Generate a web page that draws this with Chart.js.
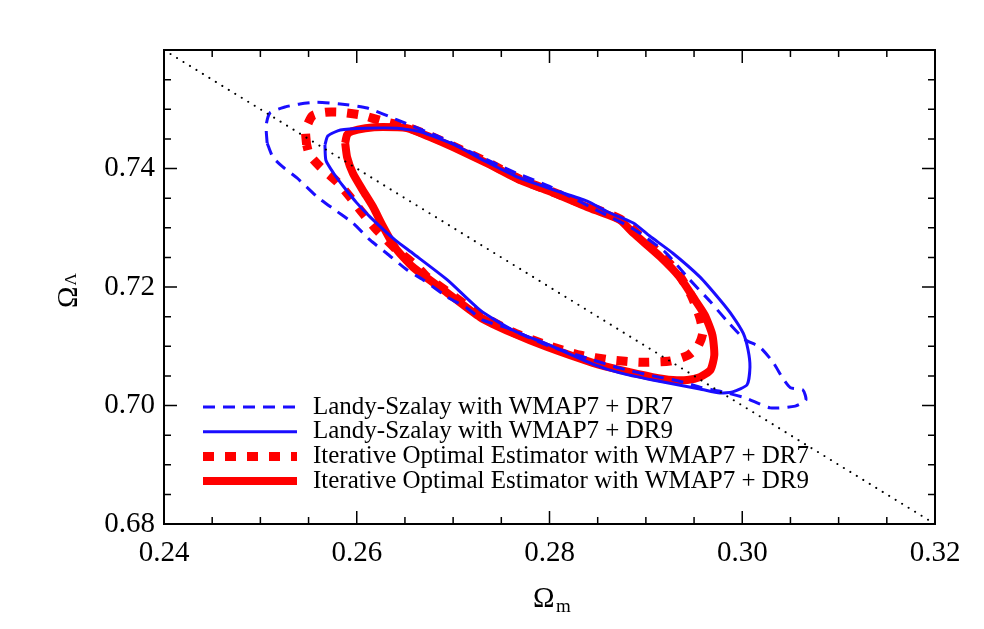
<!DOCTYPE html>
<html>
<head>
<meta charset="utf-8">
<script src="https://cdn.jsdelivr.net/npm/chart.js@4.4.1/dist/chart.umd.min.js"></script>
<style>
  html, body { margin: 0; padding: 0; background: #fff; }
  #wrap { width: 984px; height: 629px; }
</style>
</head>
<body>
<div id="wrap"><canvas id="contours" width="984" height="629"></canvas></div>
<script>
// Contours Omega_m / Omega_Lambda
const lsDr7X = [0.2507, 0.2506, 0.2510, 0.2526, 0.2541, 0.2559, 0.2583, 0.2611, 0.2642, 0.2686, 0.2714, 0.2766, 0.2801, 0.2852, 0.2887, 0.2920, 0.2944, 0.2967, 0.2985, 0.3003, 0.3018, 0.3032, 0.3042, 0.3050, 0.3063, 0.3066, 0.3055, 0.3029, 0.3003, 0.2977, 0.2956, 0.2935, 0.2907, 0.2873, 0.2845, 0.2797, 0.2756, 0.2731, 0.2714, 0.2694, 0.2669, 0.2652, 0.2631, 0.2614, 0.2596, 0.2580, 0.2559, 0.2538, 0.2523, 0.2513];
const lsDr7Y = [0.7443, 0.7473, 0.7494, 0.7504, 0.7509, 0.7512, 0.7509, 0.7502, 0.7482, 0.7453, 0.7431, 0.7392, 0.7369, 0.7327, 0.7298, 0.7259, 0.7215, 0.7175, 0.7141, 0.7111, 0.7099, 0.7073, 0.7046, 0.7030, 0.7026, 0.7009, 0.6999, 0.6996, 0.7013, 0.7024, 0.7031, 0.7041, 0.7050, 0.7063, 0.7077, 0.7102, 0.7131, 0.7144, 0.7165, 0.7183, 0.7212, 0.7229, 0.7257, 0.7279, 0.7308, 0.7327, 0.7352, 0.7384, 0.7403, 0.7419];

const lsDr9X = [0.2567, 0.2570, 0.2583, 0.2609, 0.2642, 0.2666, 0.2700, 0.2735, 0.2769, 0.2804, 0.2839, 0.2860, 0.2887, 0.2904, 0.2928, 0.2956, 0.2977, 0.2990, 0.3001, 0.3006, 0.3008, 0.3005, 0.2990, 0.2977, 0.2956, 0.2907, 0.2873, 0.2845, 0.2797, 0.2762, 0.2728, 0.2694, 0.2658, 0.2640, 0.2614, 0.2600, 0.2586, 0.2576, 0.2568];
const lsDr9Y = [0.7440, 0.7455, 0.7465, 0.7468, 0.7468, 0.7462, 0.7441, 0.7411, 0.7384, 0.7364, 0.7345, 0.7327, 0.7308, 0.7286, 0.7257, 0.7217, 0.7178, 0.7151, 0.7122, 0.7094, 0.7065, 0.7035, 0.7023, 0.7021, 0.7028, 0.7043, 0.7055, 0.7070, 0.7104, 0.7127, 0.7161, 0.7212, 0.7257, 0.7279, 0.7318, 0.7342, 0.7370, 0.7392, 0.7414];

const ioeDr7X = [0.2548, 0.2547, 0.2554, 0.2567, 0.2583, 0.2605, 0.2627, 0.2652, 0.2676, 0.2700, 0.2735, 0.2769, 0.2804, 0.2839, 0.2873, 0.2894, 0.2915, 0.2933, 0.2947, 0.2956, 0.2959, 0.2954, 0.2944, 0.2925, 0.2894, 0.2863, 0.2832, 0.2797, 0.2762, 0.2728, 0.2694, 0.2673, 0.2663, 0.2642, 0.2621, 0.2606, 0.2593, 0.2580, 0.2562, 0.2551];
const ioeDr7Y = [0.7440, 0.7465, 0.7489, 0.7495, 0.7495, 0.7490, 0.7480, 0.7470, 0.7455, 0.7438, 0.7411, 0.7382, 0.7360, 0.7337, 0.7315, 0.7286, 0.7256, 0.7224, 0.7186, 0.7148, 0.7122, 0.7100, 0.7085, 0.7075, 0.7073, 0.7077, 0.7085, 0.7102, 0.7124, 0.7153, 0.7192, 0.7217, 0.7234, 0.7262, 0.7296, 0.7325, 0.7352, 0.7377, 0.7403, 0.7423];

const ioeDr9X = [0.2588, 0.2590, 0.2595, 0.2609, 0.2627, 0.2652, 0.2676, 0.2700, 0.2735, 0.2769, 0.2804, 0.2839, 0.2873, 0.2887, 0.2915, 0.2935, 0.2949, 0.2961, 0.2969, 0.2971, 0.2967, 0.2956, 0.2943, 0.2928, 0.2907, 0.2873, 0.2845, 0.2797, 0.2762, 0.2728, 0.2694, 0.2658, 0.2640, 0.2627, 0.2617, 0.2606, 0.2596, 0.2590];
const ioeDr9Y = [0.7443, 0.7457, 0.7463, 0.7468, 0.7470, 0.7468, 0.7453, 0.7436, 0.7409, 0.7381, 0.7359, 0.7335, 0.7313, 0.7291, 0.7251, 0.7217, 0.7183, 0.7153, 0.7119, 0.7085, 0.7060, 0.7048, 0.7043, 0.7043, 0.7048, 0.7060, 0.7072, 0.7099, 0.7122, 0.7149, 0.7190, 0.7234, 0.7266, 0.7303, 0.7335, 0.7364, 0.7392, 0.7419];

// Droite plate (Omega_m + Omega_Lambda = 1)
const flatX = [0.24, 0.32];
const flatY = [0.76, 0.68];

const seriesLabels = [
    "Landy-Szalay with WMAP7 + DR7",
    "Landy-Szalay with WMAP7 + DR9",
    "Iterative Optimal Estimator with WMAP7 + DR7",
    "Iterative Optimal Estimator with WMAP7 + DR9"
];

const xTicks = [0.24, 0.26, 0.28, 0.30, 0.32];
const yTicks = [0.68, 0.70, 0.72, 0.74];
const minorStep = 0.005;

const SERIF = '"Liberation Serif", "DejaVu Serif", serif';

// Transforme deux listes en points fermés
function closedLoop(xs, ys) {
    const pts = xs.map((x, i) => ({ x: x, y: ys[i] }));
    pts.push(pts[0]);
    return pts;
}

// Cadre + graduations vers l'intérieur sur les 4 côtés
const frameTicks = {
    id: "frameTicks",
    afterDatasetsDraw(chart) {
        const { ctx, chartArea: a, scales: { x, y } } = chart;
        ctx.save();
        ctx.strokeStyle = "#000";
        ctx.lineWidth = 1.5;
        ctx.beginPath();
        const nx = Math.round((x.max - x.min) / minorStep);
        for (let i = 0; i <= nx; i++) {
            const px = x.getPixelForValue(x.min + i * minorStep);
            const len = i % 4 === 0 ? 13 : 7;
            ctx.moveTo(px, a.bottom); ctx.lineTo(px, a.bottom - len);
            ctx.moveTo(px, a.top); ctx.lineTo(px, a.top + len);
        }
        const ny = Math.round((y.max - y.min) / minorStep);
        for (let i = 0; i <= ny; i++) {
            const py = y.getPixelForValue(y.min + i * minorStep);
            const len = i % 4 === 0 ? 13 : 7;
            ctx.moveTo(a.left, py); ctx.lineTo(a.left + len, py);
            ctx.moveTo(a.right, py); ctx.lineTo(a.right - len, py);
        }
        ctx.stroke();
        ctx.lineWidth = 2;
        ctx.strokeRect(a.left, a.top, a.right - a.left, a.bottom - a.top);
        ctx.restore();
    }
};

// Légende dessinée à la main (échantillons de trait dans le cadre)
const lineLegend = {
    id: "lineLegend",
    afterDraw(chart) {
        const ctx = chart.ctx;
        const x0 = 203, x1 = 297, tx = 313;
        let yy = 407;
        ctx.save();
        ctx.font = "25px " + SERIF;
        ctx.textBaseline = "middle";
        ctx.textAlign = "left";
        seriesLabels.forEach((label, i) => {
            const ds = chart.data.datasets[i];
            ctx.strokeStyle = ds.borderColor;
            ctx.lineWidth = ds.borderWidth;
            ctx.setLineDash(ds.borderDash || []);
            ctx.lineCap = "butt";
            ctx.beginPath();
            ctx.moveTo(x0, yy);
            ctx.lineTo(x1, yy);
            ctx.stroke();
            ctx.setLineDash([]);
            ctx.fillStyle = "#000";
            ctx.fillText(label, tx, yy);
            yy += 24.7;
        });
        ctx.restore();
    }
};

// Titres des axes avec indices
const axisTitles = {
    id: "axisTitles",
    afterDraw(chart) {
        const ctx = chart.ctx;
        ctx.save();
        ctx.fillStyle = "#000";
        ctx.textBaseline = "alphabetic";
        ctx.textAlign = "left";
        // Omega_m
        ctx.font = "29px " + SERIF;
        ctx.fillText("\u03A9", 533, 607);
        ctx.font = "19px " + SERIF;
        ctx.fillText("m", 556, 612);
        // Omega_Lambda (vertical)
        ctx.translate(77, 308);
        ctx.rotate(-Math.PI / 2);
        ctx.font = "29px " + SERIF;
        ctx.fillText("\u03A9", 0, 0);
        const w = ctx.measureText("\u03A9").width;
        ctx.font = "17px " + SERIF;
        ctx.fillText("\u039B", w + 1, -1);
        ctx.restore();
    }
};

const ctx = document.getElementById("contours").getContext("2d");

new Chart(ctx, {
    type: "scatter",
    data: {
        datasets: [
            {
                label: seriesLabels[0],
                data: closedLoop(lsDr7X, lsDr7Y),
                borderColor: "#1a0dff",
                borderWidth: 3,
                borderDash: [12, 8],
                showLine: true,
                pointRadius: 0,
                tension: 0.2,
                order: 1
            },
            {
                label: seriesLabels[1],
                data: closedLoop(lsDr9X, lsDr9Y),
                borderColor: "#1a0dff",
                borderWidth: 3,
                showLine: true,
                pointRadius: 0,
                tension: 0.2,
                order: 2
            },
            {
                label: seriesLabels[2],
                data: closedLoop(ioeDr7X, ioeDr7Y),
                borderColor: "#ff0000",
                borderWidth: 9,
                borderDash: [11, 11],
                showLine: true,
                pointRadius: 0,
                tension: 0.2,
                order: 3
            },
            {
                label: seriesLabels[3],
                data: closedLoop(ioeDr9X, ioeDr9Y),
                borderColor: "#ff0000",
                borderWidth: 8,
                showLine: true,
                pointRadius: 0,
                tension: 0.2,
                order: 4
            },
            {
                label: "flat",
                data: flatX.map((x, i) => ({ x: x, y: flatY[i] })),
                borderColor: "#000",
                borderWidth: 2,
                borderDash: [0.1, 7.5],
                borderCapStyle: "round",
                showLine: true,
                pointRadius: 0,
                order: 0
            }
        ]
    },
    options: {
        responsive: false,
        animation: false,
        layout: { padding: { left: 0, top: 50, right: 49, bottom: 0 } },
        plugins: {
            legend: { display: false },
            tooltip: { enabled: false }
        },
        scales: {
            x: {
                type: "linear",
                min: 0.24,
                max: 0.32,
                afterBuildTicks: (scale) => { scale.ticks = xTicks.map(v => ({ value: v })); },
                afterFit: (scale) => { scale.height = 105; },
                grid: { display: false, drawTicks: false },
                border: { display: false },
                ticks: {
                    padding: 12,
                    color: "#000",
                    font: { family: SERIF, size: 29 },
                    callback: (v) => Number(v).toFixed(2)
                }
            },
            y: {
                type: "linear",
                min: 0.68,
                max: 0.76,
                afterBuildTicks: (scale) => { scale.ticks = yTicks.map(v => ({ value: v })); },
                afterFit: (scale) => { scale.width = 164; },
                grid: { display: false, drawTicks: false },
                border: { display: false },
                ticks: {
                    padding: 9,
                    color: "#000",
                    font: { family: SERIF, size: 29 },
                    callback: (v) => Number(v).toFixed(2)
                }
            }
        }
    },
    plugins: [frameTicks, lineLegend, axisTitles]
});
</script>
</body>
</html>
